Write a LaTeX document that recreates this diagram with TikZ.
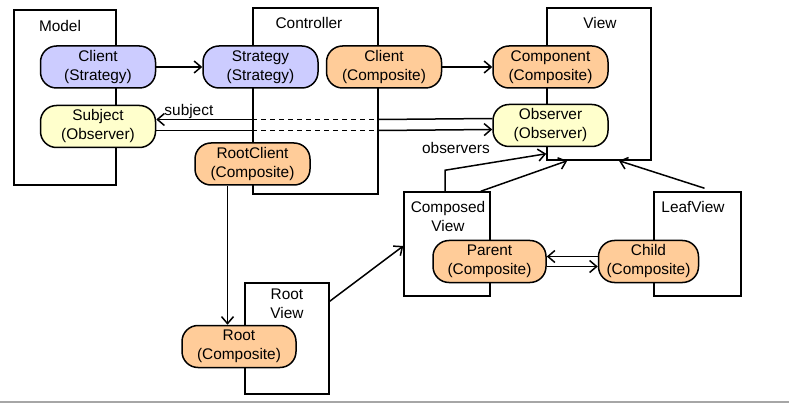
\documentclass[tikz,border=0pt]{standalone}
\usepackage{fontspec}
\setmainfont{Liberation Sans}
\usepackage{xcolor}
\usetikzlibrary{arrows.meta, positioning}

\definecolor{strategyfill}{HTML}{CCCCFF}
\definecolor{observerfill}{HTML}{FFFFCC}
\definecolor{compositefill}{HTML}{FFCC99}

\begin{document}
\begin{tikzpicture}[
        x=1pt, y=-1pt,
        font=\fontsize{15.4}{19}\selectfont,
        >={Straight Barb[length=7pt, width=12pt]},
        layer/.style={rectangle, draw, line width=1.5pt},
        layerlabel/.style={align=center, inner sep=0pt},
        role/.style={rectangle, draw, line width=1.5pt, rounded corners=16pt, align=center, minimum width=115pt, minimum height=42pt, inner sep=2pt},
        strat/.style={role, fill=strategyfill},
        obs/.style={role, fill=observerfill},
        comp/.style={role, fill=compositefill},
        conn/.style={line width=1.5pt},
        hidden/.style={conn, dash pattern=on 5pt off 4pt}
    ]
        \useasboundingbox (0,0) rectangle (789,403);
        \fill[black!35] (0,401) rectangle (789,403);

        % Layers
        \node[layer, minimum width=102pt, minimum height=175pt] (model) at (65,97.5) {};
        \node[layer, minimum width=125pt, minimum height=186pt] (ctrl) at (315.5,101) {};
        \node[layer, minimum width=104pt, minimum height=152pt] (view) at (599,84) {};
        \node[layer, minimum width=84pt, minimum height=111pt] (rootview) at (287,338.5) {};
        \node[layer, minimum width=86pt, minimum height=104pt] (compview) at (447,244) {};
        \node[layer, minimum width=87pt, minimum height=104pt] (leafview) at (697.5,244) {};

        \node[layerlabel, below=11pt of model.north, xshift=-5pt] {Model};
        \node[layerlabel, below=10pt of ctrl.north, xshift=-6.5pt] {Controller};
        \node[layerlabel, below=10pt of view.north, xshift=1pt] {View};
        \node[layerlabel, below=6pt of rootview.north] {Root\\View};
        \node[layerlabel, below=10pt of compview.north, xshift=1pt] {Composed\\View};
        \node[layerlabel, below=10pt of leafview.north, xshift=-4.5pt] {LeafView};

        % Roles
        \node[strat] (clientS) at (98,67) {Client\\(Strategy)};
        \node[obs, below=16pt of clientS] (subject) {Subject\\(Observer)};
        \node[strat, right=46pt of clientS] (strategy) {Strategy\\(Strategy)};
        \node[comp, right=7pt of strategy] (clientC) {Client\\(Composite)};
        \node[comp, right=50pt of clientC] (component) {Component\\(Composite)};
        \node[obs, below=15pt of component] (observer) {Observer\\(Observer)};
        \node[comp] (rootclient) at (252.5,164) {RootClient\\(Composite)};
        \node[comp, minimum width=114pt] (root) at (239,346.5) {Root\\(Composite)};
        \node[comp, minimum width=113pt] (parent) at (489.5,261.5) {Parent\\(Composite)};
        \node[comp, minimum width=100pt, right=51pt of parent] (child) {Child\\(Composite)};

        % Strategy and composite links
        \draw[conn, ->] (clientS) -- (strategy);
        \draw[conn, ->] (clientC) -- (component);

        % Subject / observers links, hidden behind the controller
        \coordinate (subjin) at ([yshift=7pt]subject.east);
        \coordinate (obsout) at ([yshift=7pt]observer.west);
        \coordinate (subjout) at ([yshift=-4pt]subject.east);
        \coordinate (obsin) at ([yshift=-4pt]observer.west);
        \draw[conn, <-] (subjin) -- (subjin -| ctrl.west) node[pos=0.34, above, inner sep=0pt] {subject};
        \draw[hidden] (subjin -| ctrl.west) -- (subjin -| ctrl.east);
        \draw[conn] (subjin -| ctrl.east) -- (obsout);
        \draw[conn] (subjout) -- (subjout -| ctrl.west);
        \draw[hidden] (subjout -| ctrl.west) -- (subjout -| ctrl.east);
        \draw[conn, ->] (subjout -| ctrl.east) -- (obsin) node[pos=0.68, below=12pt, inner sep=0pt] {observers};

        % Root and views
        \coordinate (rcfoot) at ([xshift=-25pt]rootclient.south);
        \draw[conn, ->] (rcfoot) -- (rcfoot |- root.north);
        \draw[conn, ->] ([yshift=-19pt]rootview.north east) -- ([yshift=-2pt]compview.west);

        % Parent / child
        \coordinate (childup) at ([yshift=5pt]child.west);
        \coordinate (childlow) at ([yshift=-5pt]child.west);
        \draw[conn, ->] (childup) -- (childup -| parent.east);
        \draw[conn, <-] (childlow) -- (childlow -| parent.east);

        % Views up to View
        \draw[conn, ->] ([xshift=-2pt]compview.north) -- ++(0,-21) -- ([yshift=7pt]view.south west);
        \draw[conn, ->] ([xshift=-10pt]compview.north east) -- ([xshift=21pt]view.south west);
        \draw[conn, ->] ([xshift=7pt, yshift=3pt]leafview.north) -- ([xshift=20pt]view.south);
    \end{tikzpicture}
\end{document}
